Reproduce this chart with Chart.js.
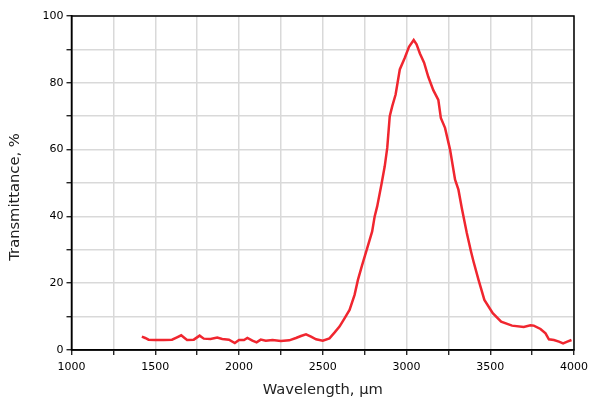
<!DOCTYPE html>
<html>
<head>
<meta charset="utf-8">
<script src="https://cdn.jsdelivr.net/npm/chart.js@4/dist/chart.umd.min.js"></script>
<style>
  html, body { margin: 0; padding: 0; background: #fff; }
  #wrap { width: 594px; height: 401px; }
</style>
</head>
<body>
<div id="wrap"><canvas id="grafico" width="594" height="401"></canvas></div>
<script>
// comprimento de onda (eixo x)
const wavelength = [
  1420, 1440, 1460, 1500, 1550, 1600, 1630, 1655, 1675, 1690, 1730, 1765, 1790, 1830, 1870, 1900,
  1940, 1975, 2000, 2030, 2050, 2080, 2105, 2130, 2160, 2200, 2250, 2300, 2340, 2370, 2400, 2430,
  2460, 2500, 2540, 2570, 2600, 2630, 2660, 2690, 2710, 2735, 2765, 2795, 2810, 2825, 2850, 2870,
  2885, 2900, 2915, 2935, 2960, 2990, 3015, 3043, 3060, 3080, 3105, 3130, 3160, 3190, 3205, 3230,
  3260, 3290, 3310, 3330, 3360, 3385, 3400, 3430, 3465, 3515, 3565, 3630, 3700, 3740, 3760, 3800,
  3830, 3850, 3880, 3910, 3935, 3960, 3985
];
// transmitancia em %
const transmittance = [
  4.0, 3.6, 3.1, 3.0, 3.0, 3.1, 3.8, 4.4, 3.6, 3.0, 3.1, 4.3, 3.4, 3.3, 3.7, 3.3,
  3.1, 2.1, 3.0, 3.0, 3.6, 2.8, 2.3, 3.1, 2.8, 3.0, 2.7, 2.9, 3.6, 4.2, 4.7, 4.0,
  3.2, 2.8, 3.5, 5.2, 7.0, 9.5, 12.0, 16.5, 21.0, 25.4, 30.4, 35.5, 40.0, 43.0, 49.5, 55.0,
  60.5, 70.0, 73.0, 76.5, 84.0, 87.5, 90.8, 92.8, 91.5, 88.8, 86.0, 81.8, 77.8, 74.9, 69.5, 66.5,
  60.0, 51.0, 48.0, 42.5, 35.0, 29.5, 26.5, 21.0, 15.0, 11.0, 8.5, 7.3, 6.9, 7.4, 7.3, 6.3,
  5.0, 3.2, 3.0, 2.5, 2.0, 2.5, 3.0
];
const xTicks = [1000, 1500, 2000, 2500, 3000, 3500, 4000];
const yTicks = [0, 20, 40, 60, 80, 100];

const pontos = wavelength.map((w, i) => ({ x: w, y: transmittance[i] }));

// moldura em volta da area do grafico
const moldura = {
  id: 'moldura',
  afterDraw(chart) {
    const { ctx, chartArea: a } = chart;
    ctx.save();
    ctx.strokeStyle = '#000';
    ctx.lineWidth = 1.5;
    ctx.strokeRect(a.left, a.top, a.right - a.left, a.bottom - a.top);
    ctx.restore();
  }
};

const fonteTick = { family: '"DejaVu Sans", Verdana, sans-serif', size: 11 };
const fonteTitulo = { family: '"DejaVu Sans", Verdana, sans-serif', size: 14.7 };

new Chart(document.getElementById('grafico'), {
  type: 'line',
  data: {
    datasets: [{
      data: pontos,
      borderColor: '#f0262f',
      borderWidth: 2.5,
      pointRadius: 0,
      tension: 0,
      fill: false
    }]
  },
  options: {
    responsive: false,
    animation: false,
    layout: { padding: { left: 0, right: 15.5, top: 16, bottom: 0 } },
    plugins: { legend: { display: false }, tooltip: { enabled: false } },
    scales: {
      x: {
        type: 'linear',
        min: 1000, max: 4000,
        afterFit: s => { s.height = 51; },
        ticks: {
          stepSize: 250,
          autoSkip: false,
          maxRotation: 0,
          padding: 6,
          color: '#000',
          font: fonteTick,
          callback: v => xTicks.includes(v) ? String(v) : ''
        },
        grid: { color: '#d9d9d9', lineWidth: 1.5, tickColor: '#000', tickLength: 5, tickWidth: 1.2 },
        border: { color: '#000', width: 1.5 },
        title: { display: true, text: 'Wavelength, µm', color: '#222', font: fonteTitulo, padding: { top: 0, bottom: 2 } }
      },
      y: {
        min: 0, max: 100,
        afterFit: s => { s.width = 71.5; },
        ticks: {
          stepSize: 10,
          autoSkip: false,
          padding: 3,
          color: '#000',
          font: fonteTick,
          callback: v => yTicks.includes(v) ? String(v) : ''
        },
        grid: { color: '#d9d9d9', lineWidth: 1.5, tickColor: '#000', tickLength: 5, tickWidth: 1.2 },
        border: { color: '#000', width: 1.5 },
        title: { display: true, text: 'Transmittance, %      ', color: '#222', font: fonteTitulo, padding: { top: 6, bottom: 0 } }
      }
    }
  },
  plugins: [moldura]
});
</script>
</body>
</html>
